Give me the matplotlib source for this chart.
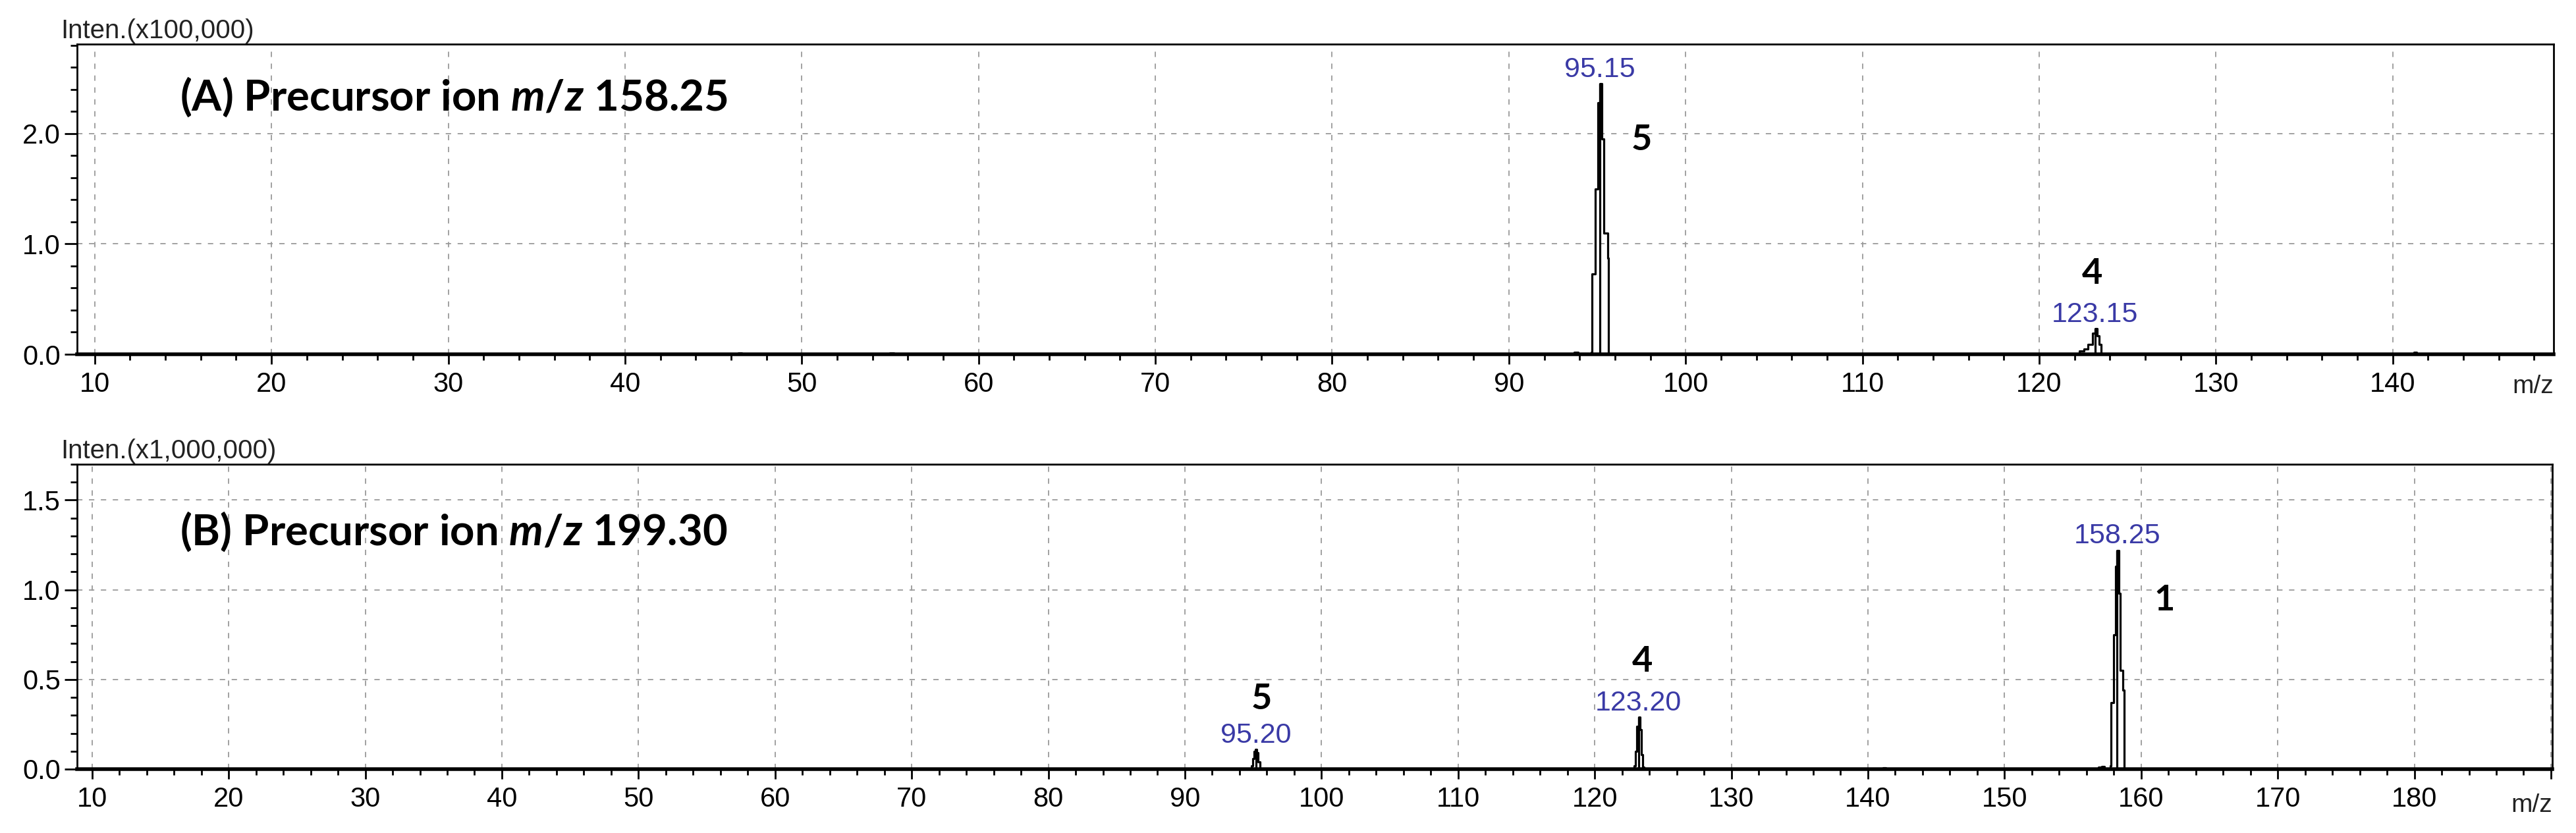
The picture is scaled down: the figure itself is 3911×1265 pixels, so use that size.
import matplotlib
matplotlib.use('Agg')
import matplotlib.pyplot as plt
from matplotlib.ticker import MultipleLocator, FuncFormatter

plt.rcParams['font.family'] = ['Liberation Sans', 'DejaVu Sans']
plt.rcParams['mathtext.fontset'] = 'custom'
plt.rcParams['mathtext.it'] = 'Lato:italic:bold'
plt.rcParams['mathtext.rm'] = 'Lato:bold'
plt.rcParams['mathtext.bf'] = 'Lato:bold'

# ---- panel A : precursor m/z 158.25 (intensity x100,000), profile points (step)
a_mz = [9.0, 46.3, 46.4, 46.6, 54.9, 55.0, 55.2, 93.6, 93.7, 93.9,
        94.65, 94.71, 94.90, 95.02, 95.145, 95.27, 95.39, 95.58, 95.64,
        122.29, 122.52, 122.77, 123.02, 123.15, 123.27, 123.40, 123.52,
        141.1, 141.2, 141.35, 149.0]
a_int = [0.0, 0.0, 0.012, 0.0, 0.0, 0.01, 0.0, 0.0, 0.02, 0.0,
         0.02, 0.73, 1.50, 2.28, 2.45, 1.95, 1.10, 0.87, 0.0,
         0.03, 0.05, 0.09, 0.19, 0.23, 0.17, 0.09, 0.0,
         0.0, 0.02, 0.0, 0.0]
a_peak_mz = [95.15, 123.15]
a_peak_int = [2.45, 0.23]
a_peak_text = ['95.15', '123.15']
a_num = ['5', '4']
a_num_x = [97.5, 123.0]
a_num_y = [1.94, 0.73]

# ---- panel B : precursor m/z 199.30 (intensity x1,000,000)
b_mz = [9.0, 94.85, 94.95, 95.05, 95.15, 95.25, 95.35, 95.5,
        122.9, 123.0, 123.1, 123.2, 123.3, 123.4, 123.5, 123.6,
        141.0, 141.1, 141.3, 156.9, 157.1, 157.3,
        157.75, 157.81, 158.0, 158.12, 158.25, 158.37, 158.49, 158.68, 158.74, 190.0]
b_int = [0.0, 0.02, 0.06, 0.10, 0.11, 0.09, 0.04, 0.0,
         0.02, 0.10, 0.24, 0.29, 0.22, 0.08, 0.01, 0.0,
         0.0, 0.006, 0.0, 0.01, 0.015, 0.0,
         0.02, 0.37, 0.75, 1.13, 1.22, 0.98, 0.55, 0.44, 0.0, 0.0]
b_peak_mz = [95.20, 123.20, 158.25]
b_peak_int = [0.11, 0.29, 1.22]
b_peak_text = ['95.20', '123.20', '158.25']
b_num = ['5', '4', '1']
b_num_x = [95.6, 123.5, 161.7]
b_num_y = [0.39, 0.60, 0.94]

fig = plt.figure(figsize=(39.11, 12.65), dpi=100)
axA = fig.add_axes([0.0299, 0.5747, 0.9614, 0.3723])
axB = fig.add_axes([0.0299, 0.0767, 0.9609, 0.366])

blue = '#3a3aa6'
grid_kw = dict(color='#9a9a9a', linewidth=1.3, linestyle=(0, (4.5, 5.5)))


def draw(ax, mz, inten, pk_mz, pk_int, pk_txt, num, num_x, num_y,
         xlim, ylim, ymaj, ymin, ylab, title, title_y, mz_y):
    ax.plot(mz, inten, drawstyle='steps-post', color='black', lw=2.3, zorder=3)
    ax.vlines(pk_mz, 0, pk_int, color='black', lw=2.3, zorder=3)
    for m, i, t in zip(pk_mz, pk_int, pk_txt):
        ax.annotate(t, (m, i), xytext=(0, 1), textcoords='offset points',
                    ha='center', va='bottom', fontsize=31, color=blue, zorder=4)
    for t, x, y in zip(num, num_x, num_y):
        ax.text(x, y, t, ha='center', va='center', fontsize=39,
                fontweight='bold', family='Lato', zorder=4)
    ax.set_xlim(*xlim)
    ax.set_ylim(*ylim)
    ax.xaxis.set_major_locator(MultipleLocator(10))
    ax.xaxis.set_minor_locator(MultipleLocator(2))
    # last major tick sits under the "m/z" caption, so it has no label
    ax.xaxis.set_major_formatter(FuncFormatter(
        lambda v, p: '' if v > xlim[1] - 1 else '%d' % v))
    ax.yaxis.set_major_locator(MultipleLocator(ymaj))
    ax.yaxis.set_minor_locator(MultipleLocator(ymin))
    ax.yaxis.set_major_formatter(FuncFormatter(lambda v, p: '%.1f' % v))
    ax.grid(True, which='major', **grid_kw)
    ax.set_axisbelow(True)
    for s in ['top', 'right', 'left']:
        ax.spines[s].set_linewidth(2.0)
    ax.spines['bottom'].set_linewidth(4.0)
    ax.tick_params(axis='x', which='major', length=11, width=2, labelsize=30,
                   pad=8, direction='out')
    ax.tick_params(axis='x', which='minor', length=6.5, width=2, direction='out')
    ax.tick_params(axis='y', which='major', length=14, width=2, labelsize=30,
                   pad=4, direction='out')
    ax.tick_params(axis='y', which='minor', length=7, width=2, direction='out')
    ax.text(-0.0066, 1.02, ylab, transform=ax.transAxes, ha='left',
            va='baseline', fontsize=29, color='#222222')
    ax.text(1.0, mz_y, 'm/z', transform=ax.transAxes, ha='right',
            va='baseline', fontsize=28, color='#222222')
    ax.text(0.0415, title_y, title, transform=ax.transAxes, ha='left',
            va='center', fontsize=47, fontweight='bold', family='Lato')


draw(axA, a_mz, a_int, a_peak_mz, a_peak_int, a_peak_text, a_num, a_num_x, a_num_y,
     (9, 149.1), (0, 2.81), 1.0, 0.2, 'Inten.(x100,000)',
     r'(A) Precursor ion $\mathit{m/z}$ 158.25', 0.83, -0.125)
draw(axB, b_mz, b_int, b_peak_mz, b_peak_int, b_peak_text, b_num, b_num_x, b_num_y,
     (8.9, 190.1), (0, 1.70), 0.5, 0.1, 'Inten.(x1,000,000)',
     r'(B) Precursor ion $\mathit{m/z}$ 199.30', 0.78, -0.14)

fig.savefig('out.png', dpi=100, facecolor='white')
